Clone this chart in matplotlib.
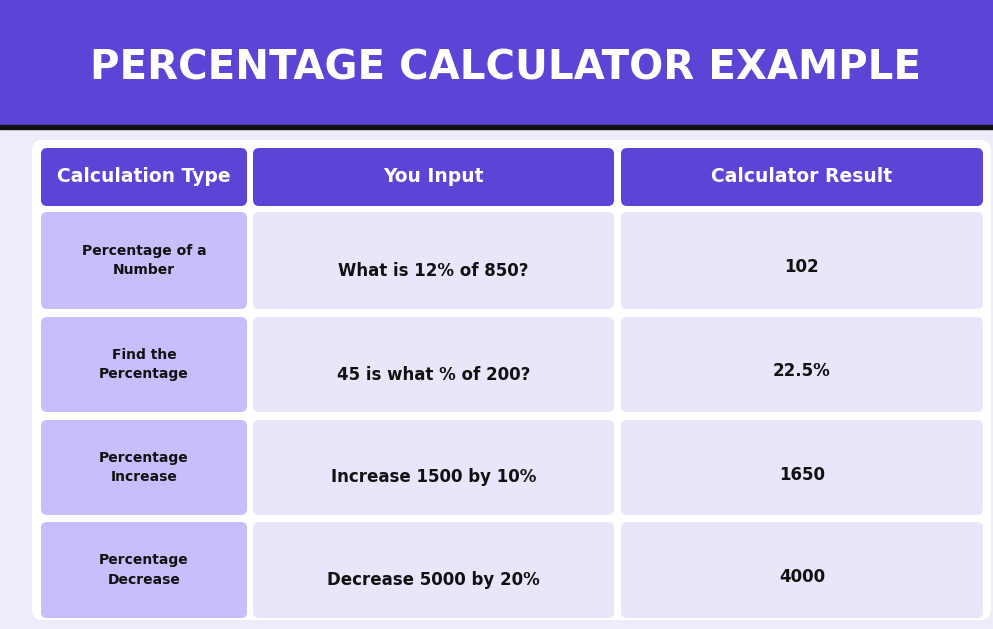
import matplotlib
matplotlib.use("Agg")
import matplotlib.pyplot as plt
from matplotlib.patches import FancyBboxPatch, Rectangle

title = "PERCENTAGE CALCULATOR EXAMPLE"
headers = ["Calculation Type", "You Input", "Calculator Result"]
calc_types = ["Percentage of a\nNumber", "Find the\nPercentage", "Percentage\nIncrease", "Percentage\nDecrease"]
inputs = ["What is 12% of 850?", "45 is what % of 200?", "Increase 1500 by 10%", "Decrease 5000 by 20%"]
results = ["102", "22.5%", "1650", "4000"]

W, H = 993, 629
fig = plt.figure(figsize=(W/100, H/100), dpi=100)
ax = fig.add_axes([0, 0, 1, 1])
ax.set_xlim(0, W); ax.set_ylim(H, 0); ax.axis("off")
fig.patch.set_facecolor("#EEECFB")

purple = "#5B45D6"
ax.add_patch(Rectangle((0, 0), W, 125, color=purple, zorder=1))
ax.add_patch(Rectangle((0, 125), W, 4, color="#111111", zorder=2))
ax.text(506, 68, title, color="white", fontsize=29, fontweight="black",
        family="DejaVu Sans", ha="center", va="center", zorder=3)

ax.add_patch(FancyBboxPatch((32, 140), W - 34, 480, boxstyle="round,pad=0,rounding_size=10",
                            fc="white", ec="none", zorder=1))

cols = [(41, 247), (253, 614), (621, 983)]
hdr = (148, 206)
rows = [(212, 309), (317, 412), (420, 515), (522, 618)]

def cell(x0, x1, y0, y1, color):
    ax.add_patch(FancyBboxPatch((x0, y0), x1 - x0, y1 - y0,
                                boxstyle="round,pad=0,rounding_size=6",
                                fc=color, ec="none", zorder=2))

for (x0, x1), h in zip(cols, headers):
    cell(x0, x1, hdr[0], hdr[1], purple)
    ax.text((x0 + x1) / 2, (hdr[0] + hdr[1]) / 2, h, color="white", fontsize=13.5,
            fontweight="bold", family="DejaVu Sans", ha="center", va="center", zorder=3)

for i, (y0, y1) in enumerate(rows):
    yc = (y0 + y1) / 2
    cell(*cols[0], y0, y1, "#C6BFFB")
    cell(*cols[1], y0, y1, "#E9E6FB")
    cell(*cols[2], y0, y1, "#E9E6FB")
    ax.text(sum(cols[0]) / 2, yc, calc_types[i], fontsize=10, fontweight="bold",
            family="DejaVu Sans", ha="center", va="center", linespacing=1.5, zorder=3, color="#111")
    ax.text(sum(cols[1]) / 2, yc + 10, inputs[i], fontsize=12, fontweight="bold",
            family="DejaVu Sans", ha="center", va="center", zorder=3, color="#111")
    ax.text(sum(cols[2]) / 2, yc + 7, results[i], fontsize=12, fontweight="bold",
            family="DejaVu Sans", ha="center", va="center", zorder=3, color="#111")

fig.savefig("out.png", dpi=100, facecolor=fig.get_facecolor())
